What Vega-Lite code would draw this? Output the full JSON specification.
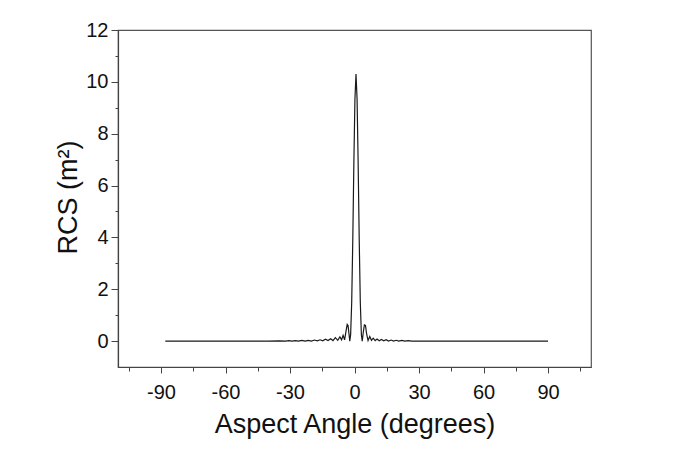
{
  "$schema": "https://vega.github.io/schema/vega-lite/v6.json",
  "width": 473,
  "height": 337,
  "autosize": {"type": "none"},
  "padding": {"left": 118, "top": 30, "right": 82, "bottom": 83},
  "background": "white",
  "config": {
    "font": "Liberation Sans",
    "view": {"stroke": "#555555", "strokeWidth": 1.2},
    "axis": {
      "grid": false,
      "labelFont": "Liberation Sans",
      "titleFont": "Liberation Sans",
      "labelColor": "#111111",
      "titleColor": "#111111",
      "domainColor": "#444444",
      "tickColor": "#444444",
      "domainWidth": 1.2,
      "tickWidth": 1
    }
  },
  "data": {
    "values": [
      {"angle": -88, "rcs": 0},
      {"angle": -40, "rcs": 0},
      {"angle": -35, "rcs": 0.01},
      {"angle": -32, "rcs": 0},
      {"angle": -30.5, "rcs": 0.02},
      {"angle": -29, "rcs": 0},
      {"angle": -27.5, "rcs": 0.02},
      {"angle": -26, "rcs": 0},
      {"angle": -24.5, "rcs": 0.03},
      {"angle": -23, "rcs": 0},
      {"angle": -21.5, "rcs": 0.03},
      {"angle": -20, "rcs": 0},
      {"angle": -18.6, "rcs": 0.04},
      {"angle": -17.3, "rcs": 0.01},
      {"angle": -16, "rcs": 0.05},
      {"angle": -14.8, "rcs": 0.01},
      {"angle": -13.5, "rcs": 0.07},
      {"angle": -12.3, "rcs": 0.02},
      {"angle": -11.1, "rcs": 0.09},
      {"angle": -10, "rcs": 0.02},
      {"angle": -8.9, "rcs": 0.13},
      {"angle": -7.8, "rcs": 0.03},
      {"angle": -6.8, "rcs": 0.16},
      {"angle": -6.0, "rcs": 0.05},
      {"angle": -5.3, "rcs": 0.22},
      {"angle": -4.6, "rcs": 0.05},
      {"angle": -3.9, "rcs": 0.4},
      {"angle": -3.4, "rcs": 0.64},
      {"angle": -3.0, "rcs": 0.6},
      {"angle": -2.6, "rcs": 0.3},
      {"angle": -2.2, "rcs": 0.0},
      {"angle": -1.8, "rcs": 0.25},
      {"angle": -1.3, "rcs": 1.5},
      {"angle": -0.8, "rcs": 3.89},
      {"angle": -0.3, "rcs": 6.85},
      {"angle": 0.2, "rcs": 9.33},
      {"angle": 0.7, "rcs": 10.3},
      {"angle": 1.2, "rcs": 9.33},
      {"angle": 1.7, "rcs": 6.85},
      {"angle": 2.2, "rcs": 3.89},
      {"angle": 2.7, "rcs": 1.5},
      {"angle": 3.2, "rcs": 0.25},
      {"angle": 3.6, "rcs": 0.0},
      {"angle": 4.1, "rcs": 0.35},
      {"angle": 4.6, "rcs": 0.62},
      {"angle": 5.1, "rcs": 0.6},
      {"angle": 5.6, "rcs": 0.3},
      {"angle": 6.3, "rcs": 0.02},
      {"angle": 7.1, "rcs": 0.18},
      {"angle": 7.9, "rcs": 0.03},
      {"angle": 8.7, "rcs": 0.11},
      {"angle": 9.6, "rcs": 0.02},
      {"angle": 10.5, "rcs": 0.08},
      {"angle": 11.5, "rcs": 0.01},
      {"angle": 12.5, "rcs": 0.06},
      {"angle": 13.6, "rcs": 0.01},
      {"angle": 14.7, "rcs": 0.05},
      {"angle": 15.8, "rcs": 0},
      {"angle": 17, "rcs": 0.04},
      {"angle": 18.2, "rcs": 0},
      {"angle": 19.4, "rcs": 0.03},
      {"angle": 20.6, "rcs": 0},
      {"angle": 22, "rcs": 0.03},
      {"angle": 23.4, "rcs": 0},
      {"angle": 25, "rcs": 0.02},
      {"angle": 26.5, "rcs": 0},
      {"angle": 30, "rcs": 0},
      {"angle": 90, "rcs": 0}
    ]
  },
  "layer": [
    {
      "mark": {"type": "line", "color": "#1a1a1a", "strokeWidth": 1.2},
      "encoding": {
        "x": {
          "field": "angle",
          "type": "quantitative",
          "scale": {"domain": [-110, 110], "nice": false, "zero": false},
          "axis": {
            "values": [-90, -60, -30, 0, 30, 60, 90],
            "labelExpr": "replace(datum.label, '\u2212', '-')",
            "title": "Aspect Angle (degrees)",
            "labelFontSize": 20,
            "titleFontSize": 27,
            "titleFontWeight": "normal",
            "tickSize": 6,
            "labelPadding": 9,
            "titleY": 65,
            "titleBaseline": "alphabetic",
            "labelFlush": false,
            "labelOverlap": false
          }
        },
        "y": {
          "field": "rcs",
          "type": "quantitative",
          "scale": {"domain": [-1, 12], "nice": false, "zero": false},
          "axis": {
            "values": [0, 2, 4, 6, 8, 10, 12],
            "title": "RCS (m²)",
            "labelFontSize": 20,
            "titleFontSize": 27,
            "titleFontWeight": "normal",
            "tickSize": 7,
            "labelPadding": 3,
            "labelOverlap": false,
            "titleAngle": -90,
            "titleX": -42,
            "titleY": 167,
            "titleAlign": "center",
            "titleBaseline": "alphabetic"
          }
        }
      }
    },
    {
      "mark": {"type": "line", "strokeOpacity": 0},
      "encoding": {
        "x": {
          "field": "angle",
          "type": "quantitative",
          "axis": {
            "orient": "bottom",
            "values": [-105, -75, -45, -15, 15, 45, 75, 105],
            "labels": false,
            "title": null,
            "domain": false,
            "tickSize": 4
          }
        },
        "y": {
          "field": "rcs",
          "type": "quantitative",
          "axis": {
            "orient": "left",
            "values": [1, 3, 5, 7, 9, 11],
            "labels": false,
            "title": null,
            "domain": false,
            "tickSize": 3
          }
        }
      }
    }
  ],
  "resolve": {"axis": {"x": "independent", "y": "independent"}}
}
